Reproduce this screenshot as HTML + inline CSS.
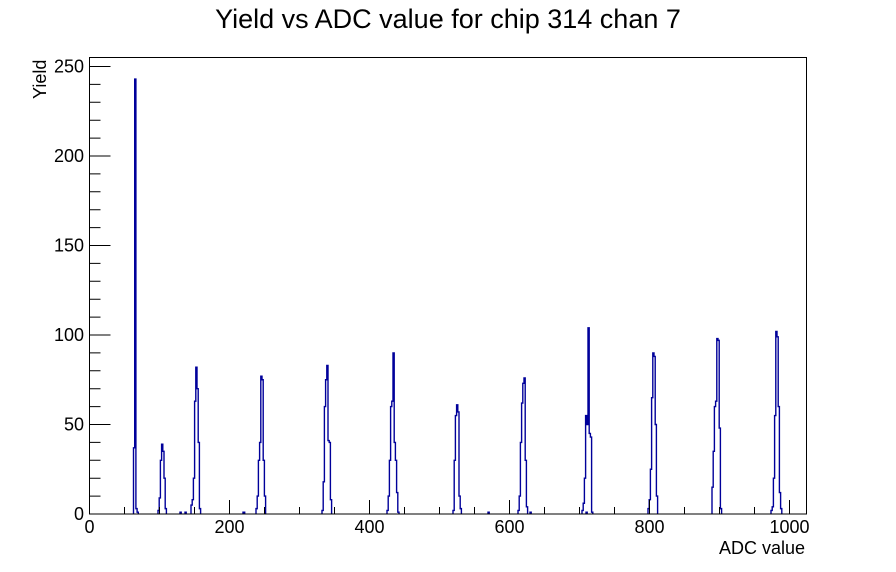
<!DOCTYPE html>
<html><head><meta charset="utf-8"><style>
html,body{margin:0;padding:0;background:#fff;}
svg{display:block;font-family:"Liberation Sans",Arial,sans-serif;}
</style></head><body>
<svg id="s" width="896" height="572" viewBox="0 0 896 572" xmlns="http://www.w3.org/2000/svg">
<rect width="896" height="572" fill="#fff"/>
<text x="448" y="28" font-size="27" text-anchor="middle" fill="#000">Yield vs ADC value for chip 314 chan 7</text>
<text transform="translate(46,99) rotate(-90)" font-size="18" fill="#000">Yield</text>
<text x="805" y="554" font-size="18" text-anchor="end" fill="#000">ADC value</text>
<g id="hist"></g>
<g id="axes" stroke="#000" stroke-width="1" fill="none"></g>
<rect x="89.5" y="57.5" width="717" height="456.5" fill="none" stroke="#000" stroke-width="1"/>
<g id="labels" font-size="18" fill="#000"></g>
</svg>
<script>
var NS="http://www.w3.org/2000/svg";
function X(v){return 89.5+v*0.7;}
function Y(v){return 514-v*1.79;}
var ax=document.getElementById('axes'),lb=document.getElementById('labels');
var d="";
for(var v=0;v<=250;v+=10){var len=(v%50==0)?21:11;d+="M89.5 "+Y(v)+"h"+len;}
for(var v=0;v<=1000;v+=50){var len=(v%200==0)?14:7;d+="M"+X(v)+" 514v-"+len;}
var p=document.createElementNS(NS,'path');p.setAttribute('d',d);ax.appendChild(p);
for(var v=0;v<=250;v+=50){var t=document.createElementNS(NS,'text');t.setAttribute('x',84);t.setAttribute('y',Y(v)+6);t.setAttribute('text-anchor','end');t.textContent=v;lb.appendChild(t);}
for(var v=0;v<=1000;v+=200){var t=document.createElementNS(NS,'text');t.setAttribute('x',X(v));t.setAttribute('y',533);t.setAttribute('text-anchor','middle');t.textContent=v;lb.appendChild(t);}
var peaks=[
[133.5,[37,243,3,1]],
[158,[2,9,30,39,35,20,3]],
[191,[5,8,20,63,82,70,40,3]],
[256,[3,10,30,40,77,75,30,10]],
[322,[2,18,60,75,83,41,40,8]],
[387,[2,10,30,60,63,90,40,30,12,1]],
[453,[2,30,55,61,57,10,3]],
[518,[2,10,40,62,73,76,30,4]],
[582,[2,6,20,55,50,104,45,43,1]],
[648,[3,8,25,65,90,88,50,10]],
[712,[15,35,60,63,98,97,48,3]],
[771,[2,4,20,55,102,99,60,12,3]],
[180,[1]],[185,[1]],[243,[1]],[243.5,[1]],[488,[1]],[530,[1]],[586,[1]]
];
var h=document.getElementById('hist');
peaks.forEach(function(pk){
 var x=pk[0],vals=pk[1],w=1.2,s="M"+x+" 514";
 vals.forEach(function(v,i){s+="L"+(x+i*w)+" "+Y(v)+"L"+(x+(i+1)*w)+" "+Y(v);});
 s+="L"+(x+vals.length*w)+" 514";
 var e=document.createElementNS(NS,'path');e.setAttribute('d',s);e.setAttribute('fill','none');e.setAttribute('stroke','#00009a');e.setAttribute('stroke-width','1.4');h.appendChild(e);
});
</script>
</body></html>
